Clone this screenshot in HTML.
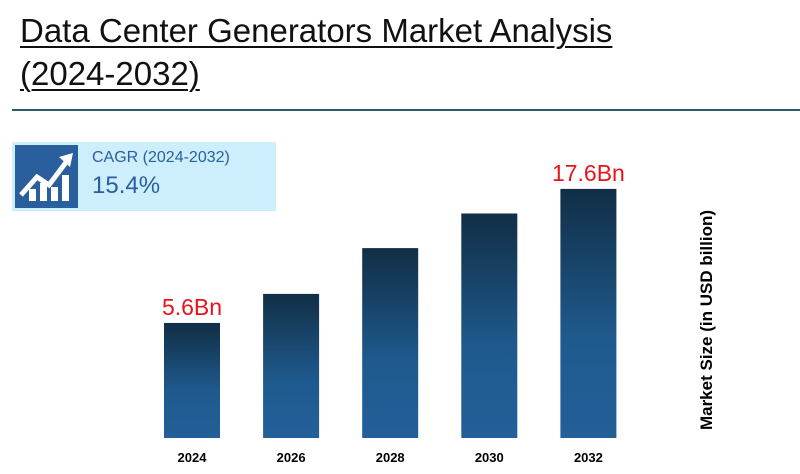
<!DOCTYPE html>
<html><head><meta charset="utf-8"><style>
body{margin:0;width:800px;height:474px;background:#fff;font-family:"Liberation Sans",Carlito,sans-serif;overflow:hidden;position:relative}
.t{position:absolute;left:20px;font-size:33px;color:#111;text-decoration:underline;text-decoration-thickness:2px;text-underline-offset:4px;white-space:nowrap}
</style></head><body>
<div class="t" style="top:12px">Data Center Generators Market Analysis</div>
<div class="t" style="top:55px">(2024-2032)</div>
<div style="position:absolute;left:12px;top:109px;width:788px;height:2px;background:#2c5a6a"></div>
<div style="position:absolute;left:12px;top:142px;width:264px;height:69px;background:#cdeefc">
 <div style="position:absolute;left:3px;top:3px;width:63px;height:63px;background:#2a5f9e">
  <svg width="63" height="63" viewBox="0 0 63 63"><g fill="#fff"><rect x="14" y="44" width="7" height="12"/><rect x="25" y="38" width="7" height="18"/><rect x="36" y="42" width="7" height="14"/><rect x="47" y="30" width="7" height="26"/></g><polyline points="6,50 22,32 34,40 52,16" fill="none" stroke="#fff" stroke-width="5"/><polygon points="44,12 58,8 55,22" fill="#fff"/></svg>
 </div>
 <div style="position:absolute;left:80px;top:7px;font-size:16px;color:#2a5f9e">CAGR (2024-2032)</div>
 <div style="position:absolute;left:80px;top:30px;font-size:24px;color:#2a5f9e">15.4%</div>
</div>
<svg id="chart" width="800" height="474" style="position:absolute;left:0;top:0">
<defs><linearGradient id="g" x1="0" y1="0" x2="0" y2="1"><stop offset="0" stop-color="#112e45"/><stop offset="0.6" stop-color="#1f5a8e"/><stop offset="1" stop-color="#235f98"/></linearGradient></defs>
<text transform="translate(712,320) rotate(-90)" text-anchor="middle" font-size="17" font-weight="bold" fill="#000" font-family="Liberation Sans,sans-serif">Market Size (in USD billion)</text>
</svg>
<script>
const categories=["2024","2026","2028","2030","2032"];
const values=[5.6,8.2,12.3,15.4,17.6];
const labels=["5.6Bn","","","","17.6Bn"];
const svg=document.getElementById('chart');
const NS="http://www.w3.org/2000/svg";
const base=438;
function yScale(v){return base-(52.5+11.17*v);}
function xScale(i){return 164+i*99.1;}
const bw=56;
categories.forEach((c,i)=>{
 const r=document.createElementNS(NS,'rect');
 const y=yScale(values[i]);
 r.setAttribute('x',xScale(i));r.setAttribute('y',y);r.setAttribute('width',bw);r.setAttribute('height',base-y);r.setAttribute('fill','url(#g)');
 
 
 svg.appendChild(r);
 const t=document.createElementNS(NS,'text');
 t.setAttribute('x',xScale(i)+bw/2);t.setAttribute('y',462);t.setAttribute('text-anchor','middle');t.setAttribute('font-size','13');t.setAttribute('font-weight','bold');t.setAttribute('font-family','Liberation Sans,sans-serif');
 t.textContent=c;
 
 
 svg.appendChild(t);
 if(labels[i]){
  const l=document.createElementNS(NS,'text');
  l.setAttribute('x',xScale(i)+bw/2);l.setAttribute('y',y-8);l.setAttribute('text-anchor','middle');l.setAttribute('font-size','23');l.setAttribute('fill','#e8141c');l.setAttribute('font-family','Liberation Sans,sans-serif');
  l.textContent=labels[i];
  
  
  svg.appendChild(l);
 }
});
</script>
</body></html>
